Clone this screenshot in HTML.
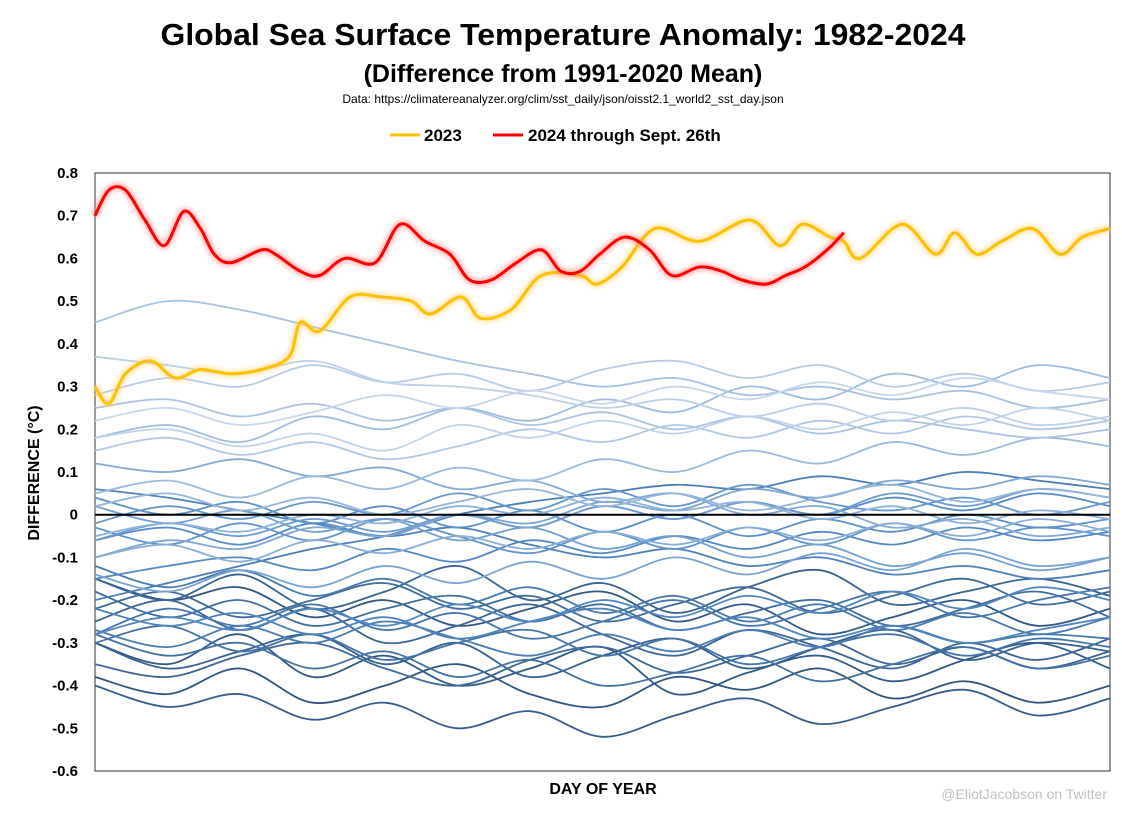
<!DOCTYPE html>
<html><head><meta charset="utf-8"><style>
body{margin:0;background:#fff;}
svg{display:block;font-family:"Liberation Sans",sans-serif;}
</style></head><body>
<svg id="chart" width="1122" height="814" viewBox="0 0 1122 814">
<defs><filter id="glow" x="-5%" y="-20%" width="110%" height="140%"><feGaussianBlur stdDeviation="2.5"/></filter></defs>
<text x="563" y="45" text-anchor="middle" font-size="31" font-weight="bold" textLength="805" lengthAdjust="spacingAndGlyphs">Global Sea Surface Temperature Anomaly: 1982-2024</text>
<text x="563" y="82" text-anchor="middle" font-size="25" font-weight="bold">(Difference from 1991-2020 Mean)</text>
<text x="563" y="103" text-anchor="middle" font-size="12">Data: https://climatereanalyzer.org/clim/sst_daily/json/oisst2.1_world2_sst_day.json</text>
<g>
<line x1="390" y1="135" x2="420" y2="135" stroke="#ffc000" stroke-width="3"/>
<text x="424" y="141" font-size="17" font-weight="bold">2023</text>
<line x1="493" y1="135" x2="523" y2="135" stroke="#ff0000" stroke-width="3"/>
<text x="528" y="141" font-size="17" font-weight="bold">2024 through Sept. 26th</text>
</g>
<rect x="95" y="173" width="1015" height="598" fill="none" stroke="#333" stroke-width="1"/>
<g id="yticks"></g>
<g id="series"></g>
<text transform="translate(39,473) rotate(-90)" text-anchor="middle" font-size="16" font-weight="bold">DIFFERENCE (°C)</text>
<text x="603" y="794" text-anchor="middle" font-size="16" font-weight="bold">DAY OF YEAR</text>
<text x="1107" y="799" text-anchor="end" font-size="14" fill="#c0c0c0">@EliotJacobson on Twitter</text>
</svg>
<script>
const yTicks=[0.8,0.7,0.6,0.5,0.4,0.3,0.2,0.1,0,-0.1,-0.2,-0.3,-0.4,-0.5,-0.6];
const years=[1982,1983,1984,1985,1986,1987,1988,1989,1990,1991,1992,1993,1994,1995,1996,1997,1998,1999,2000,2001,2002,2003,2004,2005,2006,2007,2008,2009,2010,2011,2012,2013,2014,2015,2016,2017,2018,2019,2020,2021,2022];
const bgValues=[
[-0.38,-0.42,-0.36,-0.44,-0.40,-0.35,-0.42,-0.45,-0.38,-0.41,-0.36,-0.43,-0.39,-0.44,-0.40],
[-0.15,-0.20,-0.17,-0.24,-0.20,-0.26,-0.22,-0.18,-0.25,-0.21,-0.28,-0.24,-0.20,-0.26,-0.22],
[-0.30,-0.35,-0.28,-0.38,-0.33,-0.40,-0.36,-0.31,-0.42,-0.37,-0.33,-0.39,-0.34,-0.30,-0.36],
[-0.40,-0.45,-0.42,-0.48,-0.44,-0.50,-0.46,-0.52,-0.47,-0.43,-0.49,-0.45,-0.41,-0.47,-0.43],
[-0.30,-0.36,-0.32,-0.28,-0.35,-0.30,-0.38,-0.33,-0.29,-0.36,-0.31,-0.27,-0.34,-0.30,-0.32],
[-0.15,-0.20,-0.14,-0.22,-0.18,-0.12,-0.20,-0.16,-0.23,-0.17,-0.13,-0.21,-0.18,-0.15,-0.19],
[-0.25,-0.20,-0.27,-0.22,-0.30,-0.26,-0.21,-0.28,-0.33,-0.27,-0.31,-0.36,-0.30,-0.34,-0.29],
[-0.35,-0.38,-0.33,-0.30,-0.36,-0.40,-0.34,-0.31,-0.37,-0.33,-0.29,-0.35,-0.31,-0.36,-0.32],
[-0.22,-0.18,-0.24,-0.20,-0.16,-0.22,-0.19,-0.25,-0.21,-0.17,-0.23,-0.19,-0.15,-0.21,-0.18],
[-0.18,-0.24,-0.20,-0.26,-0.22,-0.19,-0.25,-0.21,-0.27,-0.23,-0.20,-0.26,-0.22,-0.18,-0.24],
[-0.28,-0.33,-0.30,-0.36,-0.32,-0.38,-0.34,-0.40,-0.37,-0.33,-0.39,-0.35,-0.31,-0.36,-0.33],
[-0.30,-0.26,-0.32,-0.28,-0.34,-0.30,-0.27,-0.33,-0.29,-0.35,-0.31,-0.28,-0.33,-0.29,-0.31],
[-0.28,-0.22,-0.26,-0.21,-0.27,-0.23,-0.29,-0.25,-0.20,-0.26,-0.22,-0.18,-0.24,-0.20,-0.17],
[-0.12,-0.17,-0.13,-0.19,-0.15,-0.21,-0.17,-0.23,-0.19,-0.25,-0.21,-0.27,-0.23,-0.28,-0.24],
[-0.27,-0.31,-0.26,-0.30,-0.25,-0.29,-0.33,-0.28,-0.32,-0.27,-0.31,-0.26,-0.30,-0.28,-0.29],
[-0.20,-0.16,-0.12,-0.08,-0.05,0.00,0.03,0.05,0.07,0.06,0.09,0.07,0.10,0.08,0.06],
[0.06,0.04,0.01,-0.02,-0.05,-0.03,-0.07,-0.10,-0.08,-0.12,-0.10,-0.14,-0.12,-0.15,-0.13],
[-0.22,-0.26,-0.23,-0.28,-0.24,-0.29,-0.25,-0.22,-0.27,-0.24,-0.29,-0.26,-0.30,-0.27,-0.24],
[-0.28,-0.24,-0.27,-0.22,-0.26,-0.21,-0.25,-0.20,-0.24,-0.19,-0.23,-0.18,-0.22,-0.17,-0.20],
[-0.15,-0.12,-0.10,-0.13,-0.08,-0.11,-0.06,-0.09,-0.05,-0.08,-0.04,-0.07,-0.03,-0.06,-0.04],
[-0.06,-0.03,-0.07,-0.02,-0.05,0.00,-0.03,0.02,-0.01,0.03,0.00,0.04,0.01,0.05,0.02],
[0.04,0.00,0.03,-0.02,0.02,-0.03,0.01,-0.04,0.00,-0.05,-0.01,-0.04,0.00,-0.03,-0.01],
[-0.03,-0.07,-0.02,-0.06,-0.01,-0.05,-0.09,-0.04,-0.08,-0.03,-0.07,-0.02,-0.06,-0.03,-0.05],
[-0.02,0.02,-0.01,0.03,0.00,0.05,0.01,0.06,0.02,0.07,0.03,0.01,0.04,0.00,0.03],
[-0.06,-0.02,-0.05,-0.01,-0.04,0.00,-0.03,0.02,-0.01,0.03,0.00,0.05,0.02,0.06,0.04],
[0.02,-0.02,0.01,-0.04,-0.01,-0.06,-0.03,-0.08,-0.05,-0.10,-0.07,-0.12,-0.09,-0.13,-0.10],
[-0.14,-0.18,-0.13,-0.17,-0.12,-0.16,-0.11,-0.15,-0.10,-0.14,-0.09,-0.13,-0.08,-0.12,-0.10],
[-0.10,-0.06,-0.08,-0.03,-0.05,0.00,-0.02,0.03,0.01,0.06,0.04,0.08,0.06,0.09,0.07],
[0.12,0.10,0.13,0.09,0.11,0.06,0.08,0.03,0.05,0.00,0.02,-0.03,-0.01,-0.05,-0.03],
[-0.10,-0.07,-0.11,-0.06,-0.09,-0.05,-0.08,-0.04,-0.07,-0.03,-0.06,-0.02,-0.05,-0.01,-0.04],
[-0.05,-0.02,-0.04,0.00,-0.02,0.02,0.00,0.04,0.01,0.03,-0.01,0.02,-0.02,0.01,-0.01],
[0.02,0.05,0.01,0.04,0.00,0.03,0.06,0.02,0.05,0.01,0.04,0.07,0.03,0.06,0.04],
[0.05,0.08,0.04,0.09,0.06,0.11,0.08,0.13,0.10,0.15,0.12,0.17,0.14,0.18,0.16],
[0.18,0.21,0.17,0.23,0.20,0.25,0.22,0.27,0.24,0.30,0.27,0.33,0.30,0.35,0.32],
[0.45,0.50,0.48,0.44,0.40,0.36,0.33,0.30,0.32,0.28,0.30,0.27,0.29,0.25,0.27],
[0.25,0.27,0.23,0.26,0.22,0.25,0.21,0.24,0.20,0.23,0.19,0.22,0.20,0.18,0.20],
[0.15,0.18,0.14,0.17,0.13,0.16,0.20,0.17,0.21,0.18,0.22,0.19,0.23,0.20,0.22],
[0.28,0.32,0.30,0.35,0.31,0.33,0.29,0.34,0.36,0.32,0.35,0.30,0.33,0.29,0.31],
[0.37,0.35,0.33,0.36,0.31,0.30,0.28,0.25,0.27,0.23,0.26,0.22,0.25,0.21,0.23],
[0.18,0.20,0.16,0.19,0.15,0.21,0.18,0.22,0.19,0.23,0.20,0.24,0.21,0.25,0.22],
[0.22,0.25,0.21,0.24,0.28,0.25,0.29,0.26,0.30,0.27,0.31,0.28,0.32,0.29,0.27]];
const days2023=[0,5,11,20,29,38,49,60,70,74,81,92,103,114,121,132,139,150,161,175,181,190,202,218,236,247,255,265,270,276,291,303,310,318,327,338,348,356,366];
const vals2023=[0.30,0.26,0.33,0.36,0.32,0.34,0.33,0.34,0.37,0.45,0.43,0.51,0.51,0.50,0.47,0.51,0.46,0.48,0.56,0.56,0.54,0.58,0.67,0.64,0.69,0.63,0.68,0.65,0.64,0.60,0.68,0.61,0.66,0.61,0.64,0.67,0.61,0.65,0.67];
const days2024=[0,5,11,18,25,32,38,43,49,60,65,74,81,90,101,110,119,128,135,143,152,161,168,175,182,191,200,208,218,226,233,242,249,256,264,270];
const vals2024=[0.70,0.76,0.76,0.69,0.63,0.71,0.67,0.61,0.59,0.62,0.61,0.57,0.56,0.60,0.59,0.68,0.64,0.61,0.55,0.55,0.59,0.62,0.57,0.57,0.61,0.65,0.62,0.56,0.58,0.57,0.55,0.54,0.56,0.58,0.62,0.66];

const X0=95,X1=1110,Y0=173,Y1=771,VMAX=0.8,VMIN=-0.6;
const xs=d=>X0+d/366*(X1-X0);
const ys=v=>Y0+(VMAX-v)/(VMAX-VMIN)*(Y1-Y0);
const NS='http://www.w3.org/2000/svg';
function pathD(pts){let d='M'+pts[0][0].toFixed(1)+','+pts[0][1].toFixed(1);
 for(let i=0;i<pts.length-1;i++){const p0=pts[Math.max(0,i-1)],p1=pts[i],p2=pts[i+1],p3=pts[Math.min(pts.length-1,i+2)];
  d+=' C'+(p1[0]+(p2[0]-p0[0])/6).toFixed(1)+','+(p1[1]+(p2[1]-p0[1])/6).toFixed(1)+' '+(p2[0]-(p3[0]-p1[0])/6).toFixed(1)+','+(p2[1]-(p3[1]-p1[1])/6).toFixed(1)+' '+p2[0].toFixed(1)+','+p2[1].toFixed(1);}
 return d;}
function colorAt(f){const a=[47,85,128],b=[86,140,200],c=[200,215,235];
 const [p,q,t]=f<0.5?[a,b,f*2]:[b,c,(f-0.5)*2];
 return 'rgb('+p.map((v,k)=>Math.round(v+(q[k]-v)*t)).join(',')+')';}
const yt=document.getElementById('yticks');
yTicks.forEach(v=>{const t=document.createElementNS(NS,'text');
 t.setAttribute('x',78);t.setAttribute('y',ys(v)+5);t.setAttribute('text-anchor','end');
 t.setAttribute('font-size','15');t.setAttribute('font-weight','bold');
 t.textContent=v===0?'0':v.toFixed(1);
 
 
 yt.appendChild(t);});
const g=document.getElementById('series');
years.forEach((yr,i)=>{const vals=bgValues[i];const n=vals.length;
 const pts=vals.map((v,k)=>[xs(k*366/(n-1)),ys(v)]);
 const p=document.createElementNS(NS,'path');
 p.setAttribute('d',pathD(pts));p.setAttribute('fill','none');
 p.setAttribute('stroke',colorAt(i/(years.length-1)));p.setAttribute('stroke-width','1.8');
 
 
 g.appendChild(p);});
const zl=document.createElementNS(NS,'line');
zl.setAttribute('x1',X0);zl.setAttribute('x2',X1);zl.setAttribute('y1',ys(0));zl.setAttribute('y2',ys(0));
zl.setAttribute('stroke','#000');zl.setAttribute('stroke-width','2');


g.appendChild(zl);
function hl(days,vals,color,glow,name){const pts=days.map((d,k)=>[xs(d),ys(vals[k])]);const d=pathD(pts);
 const gp=document.createElementNS(NS,'path');gp.setAttribute('d',d);gp.setAttribute('fill','none');
 gp.setAttribute('stroke',glow);gp.setAttribute('stroke-width','7');gp.setAttribute('filter','url(#glow)');gp.setAttribute('opacity','0.6');
 
 
 g.appendChild(gp);
 const p=document.createElementNS(NS,'path');p.setAttribute('d',d);p.setAttribute('fill','none');
 p.setAttribute('stroke',color);p.setAttribute('stroke-width','3');p.setAttribute('stroke-linejoin','round');
 
 
 g.appendChild(p);}
hl(days2023,vals2023,'#ffc000','#ffd070','line-2023');
hl(days2024,vals2024,'#ff0000','#ff8080','line-2024');
</script>
</body></html>
